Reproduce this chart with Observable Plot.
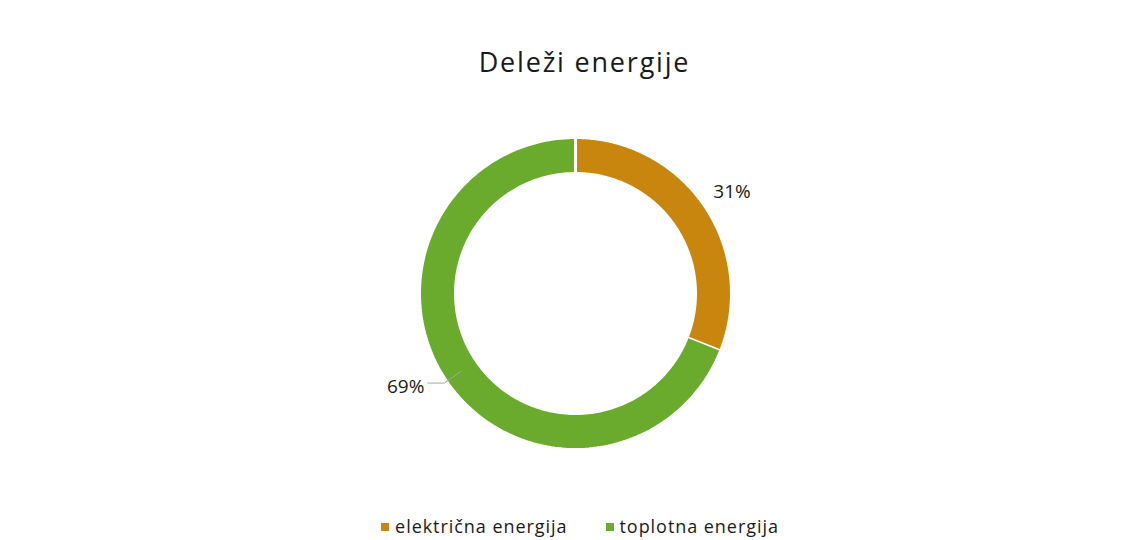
<!DOCTYPE html>
<html>
<head>
<meta charset="utf-8">
<script src="https://cdn.jsdelivr.net/npm/d3@7"></script>
<script src="https://cdn.jsdelivr.net/npm/@observablehq/plot@0.6"></script>
<style>
  html, body { margin: 0; padding: 0; background: #ffffff; }
  body { width: 1129px; height: 540px; overflow: hidden; font-family: "Open Sans", sans-serif; color: #222; }
  #title { height: 100px; box-sizing: border-box; padding-top: 44px; text-align: center; font-size: 27px; letter-spacing: 1.8px; line-height: 36px; color: #1a1a1a; padding-left: 40px; }
  #legend { display: flex; justify-content: center; gap: 38px; font-size: 18px; letter-spacing: 0.95px; line-height: 24px; color: #1a1a1a; padding-top: 24px; padding-left: 31px; }
  .item { display: flex; align-items: center; }
  .sw { width: 8px; height: 8px; margin-right: 6px; display: inline-block; position: relative; top: 1px; }
</style>
</head>
<body>
<div id="title"></div>
<div id="chart"></div>
<div id="legend"></div>
<script>
// ---- data ----
const title = "Deleži energije";
const categories = ["električna energija", "toplotna energija"];
const values = [31, 69];
const labels = ["31%", "69%"];
const colors = ["#C8860E", "#6AAB2D"];

// ---- layout ----
const W = 1129, H = 390;
const cx = 575, cy = 193, R = 156;
const inner = 120 / 156;

document.getElementById("title").textContent = title;

const pie = d3.pie().sort(null).value(d => d.value);
const data = categories.map((c, i) => ({name: c, value: values[i], label: labels[i], color: colors[i]}));
const arcs = pie(data);

// polygon points of each ring slice (angle clockwise from top)
function ringPoints(a) {
  const pts = [];
  const n = 180;
  for (let k = 0; k <= n; k++) {
    const t = a.startAngle + (a.endAngle - a.startAngle) * k / n;
    pts.push({name: a.data.name, x: Math.sin(t), y: Math.cos(t)});
  }
  for (let k = n; k >= 0; k--) {
    const t = a.startAngle + (a.endAngle - a.startAngle) * k / n;
    pts.push({name: a.data.name, x: inner * Math.sin(t), y: inner * Math.cos(t)});
  }
  return pts;
}
const sliceMarks = arcs.map(a => Plot.line(ringPoints(a), {
  x: "x", y: "y", fill: a.data.color, stroke: "white", strokeWidth: 3, strokeLinejoin: "miter"
}));

const mid = a => (a.startAngle + a.endAngle) / 2;
const rm = (1 + inner) / 2;
// 31% label: outside the ring at its mid angle
const a0 = arcs[0];
const lab0 = [{x: 1.19 * Math.sin(mid(a0)), y: 1.19 * Math.cos(mid(a0)), text: a0.data.label}];
// 69% label with leader line
const a1 = arcs[1];
const p1 = {x: rm * Math.sin(mid(a1)), y: rm * Math.cos(mid(a1))};
const u = 1 / R; // one pixel in data units
const leader = [
  {x1: p1.x, y1: p1.y, x2: p1.x - 17 * u, y2: p1.y - 12 * u},
  {x1: p1.x - 17 * u, y1: p1.y - 12 * u, x2: p1.x - 34 * u, y2: p1.y - 12 * u}
];
const lab1 = [{x: p1.x - 37 * u, y: p1.y - 16 * u, text: a1.data.label}];

const chart = Plot.plot({
  width: W, height: H,
  margin: 0,
  x: {domain: [-1, 1], range: [cx - R, cx + R], axis: null},
  y: {domain: [-1, 1], range: [cy + R, cy - R], axis: null},
  style: {fontFamily: "Open Sans, sans-serif", background: "white"},
  marks: [
    ...sliceMarks,
    Plot.link(leader, {x1: "x1", y1: "y1", x2: "x2", y2: "y2", stroke: "#a6a6a6", strokeWidth: 1}),
    Plot.text(lab0, {x: "x", y: "y", text: "text", fontSize: 19, fill: "#1a1a1a", textAnchor: "middle", dx: 3, dy: 3}),
    Plot.text(lab1, {x: "x", y: "y", text: "text", fontSize: 19, fill: "#1a1a1a", textAnchor: "end"})
  ]
});
document.getElementById("chart").appendChild(chart);

const legend = document.getElementById("legend");
data.forEach(d => {
  const it = document.createElement("div");
  it.className = "item";
  const sw = document.createElement("span");
  sw.className = "sw";
  sw.style.background = d.color;
  it.appendChild(sw);
  it.appendChild(document.createTextNode(d.name));
  legend.appendChild(it);
});
</script>
</body>
</html>
